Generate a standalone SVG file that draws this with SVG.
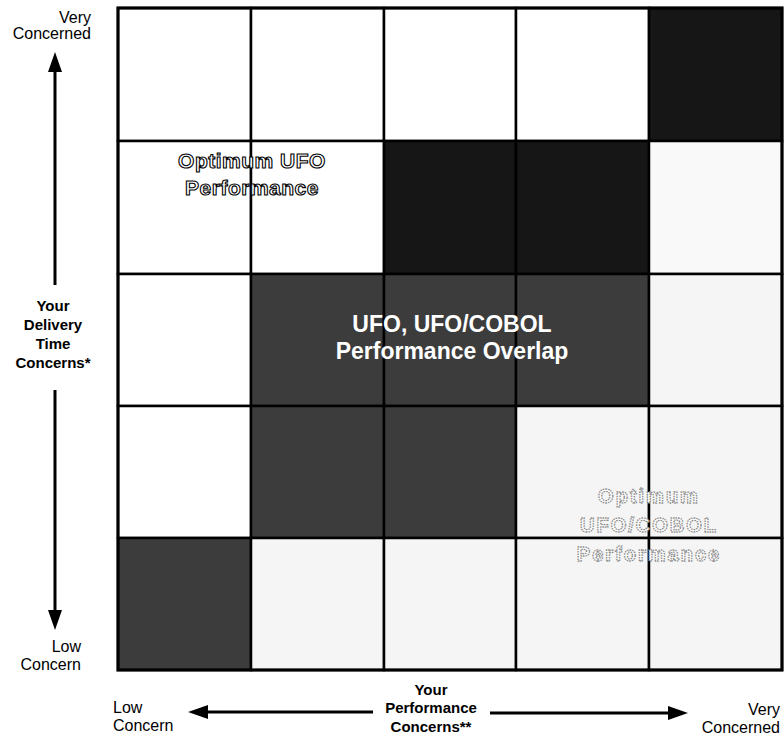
<svg xmlns="http://www.w3.org/2000/svg" width="784" height="736" viewBox="0 0 784 736">
<defs>
<style>
.cell{stroke:#000;stroke-width:2.5}
.w{fill:#fff}
.lt{fill:#f5f5f5}
.lt2{fill:#f9f9f9}
.dk{fill:#3c3c3c}
.bk{fill:#161616}
.lbl{font-family:"Liberation Sans",Arial,sans-serif;font-size:16px;fill:#000}
.bl{font-family:"Liberation Sans",Arial,sans-serif;font-size:15px;font-weight:bold;fill:#000;text-anchor:middle}
.ctr{font-family:"Liberation Sans",Arial,sans-serif;font-size:23px;font-weight:bold;fill:#fff;text-anchor:middle}
.out{font-family:"Liberation Sans",Arial,sans-serif;font-size:21px;font-weight:bold;fill:#fff;stroke:#000;stroke-width:1.1;letter-spacing:0.5px;text-anchor:middle}
.out2{font-family:"Liberation Sans",Arial,sans-serif;font-size:20px;font-weight:bold;fill:#fff;stroke:#8a8a8a;stroke-width:1.3;stroke-dasharray:1.5 1;letter-spacing:2px;text-anchor:middle}
.ax{stroke:#000;stroke-width:3;fill:none;marker-end:url(#ah)}
</style>
<marker id="ah" viewBox="0 0 20 14" markerWidth="20" markerHeight="14" markerUnits="userSpaceOnUse" refX="10" refY="7" orient="auto">
<path d="M0,0 L20,7 L0,14 z" fill="#000"/>
</marker>
</defs>
<rect width="784" height="736" fill="#fff"/>
<g id="grid">
<g id="r0"><rect class="cell w" x="118" y="8" width="133" height="133"/><rect class="cell w" x="251" y="8" width="133" height="133"/><rect class="cell w" x="384" y="8" width="132" height="133"/><rect class="cell w" x="516" y="8" width="133" height="133"/><rect class="cell bk" x="649" y="8" width="133" height="133"/></g>
<g id="r1"><rect class="cell w" x="118" y="141" width="133" height="133"/><rect class="cell w" x="251" y="141" width="133" height="133"/><rect class="cell bk" x="384" y="141" width="132" height="133"/><rect class="cell bk" x="516" y="141" width="133" height="133"/><rect class="cell lt2" x="649" y="141" width="133" height="133"/></g>
<g id="r2"><rect class="cell w" x="118" y="274" width="133" height="132"/><rect class="cell dk" x="251" y="274" width="133" height="132"/><rect class="cell dk" x="384" y="274" width="132" height="132"/><rect class="cell dk" x="516" y="274" width="133" height="132"/><rect class="cell lt" x="649" y="274" width="133" height="132"/></g>
<g id="r3"><rect class="cell w" x="118" y="406" width="133" height="132"/><rect class="cell dk" x="251" y="406" width="133" height="132"/><rect class="cell dk" x="384" y="406" width="132" height="132"/><rect class="cell lt" x="516" y="406" width="133" height="132"/><rect class="cell lt" x="649" y="406" width="133" height="132"/></g>
<g id="r4"><rect class="cell dk" x="118" y="538" width="133" height="132"/><rect class="cell lt" x="251" y="538" width="133" height="132"/><rect class="cell lt" x="384" y="538" width="132" height="132"/><rect class="cell lt" x="516" y="538" width="133" height="132"/><rect class="cell lt" x="649" y="538" width="133" height="132"/></g>
<rect x="118" y="8" width="664" height="662" fill="none" stroke="#000" stroke-width="3"/>
</g>
<g id="optimum-ufo"><text class="out" x="252" y="168">Optimum UFO</text><text class="out" x="252" y="195">Performance</text></g>
<g id="overlap"><text class="ctr" x="452" y="332">UFO, UFO/COBOL</text><text class="ctr" x="452" y="359">Performance Overlap</text></g>
<g id="optimum-cobol"><text class="out2" x="649" y="503">Optimum</text><text class="out2" x="649" y="532">UFO/COBOL</text><text class="out2" x="649" y="561">Performance</text></g>
<g id="y-axis-labels">
<text class="lbl" x="91" y="23" text-anchor="end">Very</text>
<text class="lbl" x="91" y="39" text-anchor="end">Concerned</text>
<text class="bl" x="53" y="311">Your</text>
<text class="bl" x="53" y="330">Delivery</text>
<text class="bl" x="53" y="349">Time</text>
<text class="bl" x="53" y="368">Concerns*</text>
<text class="lbl" x="81" y="652" text-anchor="end">Low</text>
<text class="lbl" x="81" y="670" text-anchor="end">Concern</text>
</g>
<g id="x-axis-labels">
<text class="lbl" x="113" y="713">Low</text>
<text class="lbl" x="113" y="731">Concern</text>
<text class="bl" x="431" y="695">Your</text>
<text class="bl" x="431" y="713">Performance</text>
<text class="bl" x="431" y="732">Concerns**</text>
<text class="lbl" x="780" y="715" text-anchor="end">Very</text>
<text class="lbl" x="780" y="733" text-anchor="end">Concerned</text>
</g>
<g id="connectors">
<line class="ax" x1="55" y1="285" x2="55" y2="62"/>
<line class="ax" x1="55" y1="390" x2="55" y2="620"/>
<line class="ax" x1="373" y1="712" x2="198" y2="712"/>
<line class="ax" x1="490" y1="713" x2="678" y2="713"/>
</g>
</svg>
